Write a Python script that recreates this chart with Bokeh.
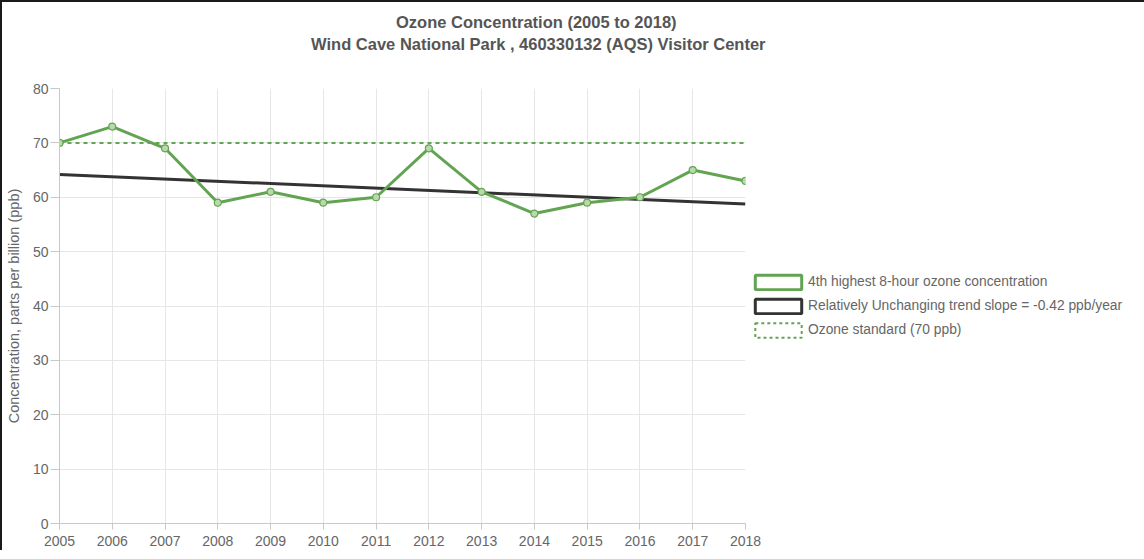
from bokeh.plotting import figure
from bokeh.models import (FixedTicker, Legend, LegendItem, Title, ColumnDataSource, Range1d)
from bokeh.embed import file_html
from bokeh.resources import INLINE

# ---- data ----
years = [2005, 2006, 2007, 2008, 2009, 2010, 2011, 2012, 2013, 2014, 2015, 2016, 2017, 2018]
ozone_4th_high = [70, 73, 69, 59, 61, 59, 60, 69, 61, 57, 59, 60, 65, 63]
trend_years = [2005, 2018]
trend_values = [64.2, 58.74]
standard_years = [2005, 2018]
standard_values = [70, 70]
y_ticks = [0, 10, 20, 30, 40, 50, 60, 70, 80]
title_lines = ["Ozone Concentration  (2005 to 2018)",
               "Wind Cave National Park , 460330132 (AQS) Visitor Center"]
legend_labels = ["4th highest 8-hour ozone concentration",
                 "Relatively Unchanging trend slope = -0.42 ppb/year",
                 "Ozone standard (70 ppb)"]
y_label = "Concentration, parts per billion (ppb)"

GREEN = "#63a452"
FONT = "Liberation Sans"
TXT = "#666666"
NAN = float("nan")

p = figure(frame_width=686, frame_height=435, output_backend="svg", toolbar_location=None,
           title_location=None,
           x_range=Range1d(2005, 2018), y_range=Range1d(0, 80),
           min_border_left=57, min_border_right=300, min_border_top=86, min_border_bottom=27,
           styles={"border-top": "2px solid #1a1a1a", "border-left": "2px solid #1a1a1a"})
p.outline_line_color = None
p.background_fill_color = "white"

for ax in (p.xaxis[0], p.yaxis[0]):
    ax.axis_line_color = "#c8c8c8"
    ax.major_tick_line_color = "#c8c8c8"
    ax.minor_tick_line_color = None
    ax.major_label_text_color = TXT
    ax.major_label_text_font = FONT
    ax.major_label_text_font_size = "14px"
    ax.major_tick_in = 0

p.xaxis.ticker = FixedTicker(ticks=years)
p.yaxis.ticker = FixedTicker(ticks=y_ticks)
p.xaxis.major_tick_out = 6
p.xaxis.major_label_standoff = 6
p.yaxis.major_tick_out = 9
p.yaxis.major_label_standoff = 2
p.yaxis.axis_label = y_label
p.yaxis.axis_label_text_font = FONT
p.yaxis.axis_label_text_font_style = "normal"
p.yaxis.axis_label_text_font_size = "14.5px"
p.yaxis.axis_label_text_color = TXT
p.yaxis.axis_label_standoff = 8

p.xgrid.ticker = FixedTicker(ticks=years)
p.ygrid.ticker = FixedTicker(ticks=y_ticks)
p.grid.grid_line_color = "#e6e6e6"

# standard line
p.line(standard_years, standard_values, line_color=GREEN, line_width=2, line_dash="4 4")
# trend
p.line(trend_years, trend_values, line_color="#333333", line_width=3)
# data
src = ColumnDataSource(dict(x=years, y=ozone_4th_high))
p.line("x", "y", source=src, line_color=GREEN, line_width=3)
p.scatter("x", "y", source=src, marker="circle", size=7, fill_color="#b9d9ab",
          line_color=GREEN, line_width=1.2)

# legend swatches (box proxies, nothing drawn in the plot area)
def proxy_src():
    return ColumnDataSource(dict(left=[NAN], right=[NAN], top=[NAN], bottom=[NAN]))

lg1 = p.quad(source=proxy_src(), left="left", right="right", top="top", bottom="bottom",
             fill_color="white", line_color=GREEN, line_width=3)
lg2 = p.quad(source=proxy_src(), left="left", right="right", top="top", bottom="bottom",
             fill_color="white", line_color="#333333", line_width=3)
lg3 = p.quad(source=proxy_src(), left="left", right="right", top="top", bottom="bottom",
             fill_color="white", line_color=GREEN, line_width=2, line_dash="3 3")

legend = Legend(items=[LegendItem(label=legend_labels[0], renderers=[lg1]),
                       LegendItem(label=legend_labels[1], renderers=[lg2]),
                       LegendItem(label=legend_labels[2], renderers=[lg3])],
                location="center_left", orientation="vertical",
                glyph_width=58, glyph_height=18, spacing=6, padding=0, margin=4,
                label_standoff=1, label_text_font=FONT, label_text_font_size="13.8px",
                label_text_color=TXT, label_height=18,
                border_line_color=None, background_fill_alpha=0)
p.add_layout(legend, "right")

# spacer between titles and plot area, then the two title lines
p.add_layout(Title(text=" ", text_font_size="30px", standoff=0), "above")
p.add_layout(Title(text=title_lines[1], align="left", offset=251.6, standoff=2,
                   text_font=FONT, text_font_size="16.5px", text_font_style="bold",
                   text_color="#555555"), "above")
p.add_layout(Title(text=title_lines[0], align="left", offset=336.5, standoff=2,
                   text_font=FONT, text_font_size="16.5px", text_font_style="bold",
                   text_color="#555555"), "above")

open("out.html", "w").write(file_html(p, INLINE))
